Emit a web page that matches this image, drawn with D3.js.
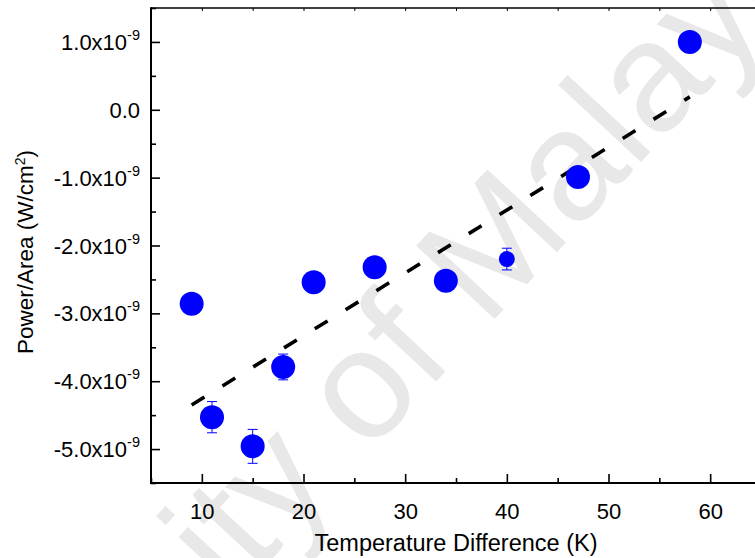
<!DOCTYPE html>
<html>
<head>
<meta charset="utf-8">
<script src="https://cdn.jsdelivr.net/npm/d3@7"></script>
<style>
  html, body { margin: 0; padding: 0; background: #fff; }
  svg { display: block; font-family: "Liberation Sans", Arial, Helvetica, sans-serif; }
</style>
</head>
<body>
<svg id="chart" width="755" height="558"></svg>
<script>
// ---- data (power in units of 1e-9 W/cm^2) ----
const tempDiff   = [9, 11, 15, 18, 21, 27, 34, 40, 47, 58];
const powerArea  = [-2.86, -4.53, -4.96, -3.79, -2.54, -2.32, -2.52, -2.20, -0.99, 1.00];
const powerErr   = [0, 0.23, 0.25, 0.19, 0, 0, 0, 0.16, 0, 0];
const fitX       = [9, 58];
const fitY       = [-4.35, 0.19];
const xTicks     = [10, 20, 30, 40, 50, 60];
const xMinorTicks= [5, 15, 25, 35, 45, 55, 65];
const yTicks     = [-5, -4, -3, -2, -1, 0, 1];
const yTickMant  = ["-5.0", "-4.0", "-3.0", "-2.0", "-1.0", "0.0", "1.0"];
const yTickExp   = ["-9", "-9", "-9", "-9", "-9", "", "-9"];
const yMinorTicks= [-5.5, -4.5, -3.5, -2.5, -1.5, -0.5, 0.5, 1.5];
const xTitle     = "Temperature Difference (K)";
const watermark  = "University of Malaya";

const svg = d3.select("#chart");
const L = 151, T = 8, R = 761, B = 483;
const x = d3.scaleLinear().domain([5, 65]).range([L, R]);
const y = d3.scaleLinear().domain([-5.5, 1.5]).range([B, T]);

// watermark
svg.append("text")
  .attr("transform", "translate(350,474) rotate(-47)")
  .attr("text-anchor", "middle")
  .attr("font-size", 156)
  .attr("fill", "#e8e8e8")
  .text(watermark);

const g = svg.append("g");
g.append("line").attr("x1", L).attr("x2", 755).attr("y1", T).attr("y2", T)
  .attr("stroke", "#000").attr("stroke-width", 1.6);

// axes with inward ticks
const xAxis = d3.axisBottom(x).tickValues(xTicks).tickSize(-9).tickPadding(20).tickFormat(d3.format("d"));
const xg = g.append("g").attr("transform", `translate(0,${B})`).call(xAxis);
xg.select(".domain").remove();
xg.selectAll("line").attr("stroke-width", 1.6);
xg.selectAll("text").attr("font-size", 22).attr("fill", "#000")
  .attr("font-family", "Liberation Sans, Arial, sans-serif");
const xm = d3.axisBottom(x).tickValues(xMinorTicks).tickSize(-5).tickFormat("");
const xmg = g.append("g").attr("transform", `translate(0,${B})`).call(xm);
xmg.select(".domain").remove();
xmg.selectAll("line").attr("stroke-width", 1.6);
const xt = d3.axisTop(x).tickValues(xTicks.concat(xMinorTicks)).tickSize(-3).tickFormat("");
const xtg = g.append("g").attr("transform", `translate(0,${T})`).call(xt);
xtg.select(".domain").remove();
xtg.selectAll("line").attr("stroke-width", 1);

const yAxis = d3.axisLeft(y).tickValues(yTicks).tickSize(-9).tickFormat("");
const yg = g.append("g").attr("transform", `translate(${L},0)`).call(yAxis);
yg.select(".domain").remove();
yg.selectAll("line").attr("stroke-width", 1.6);
const ym = d3.axisLeft(y).tickValues(yMinorTicks).tickSize(-5).tickFormat("");
const ymg = g.append("g").attr("transform", `translate(${L},0)`).call(ym);
ymg.select(".domain").remove();
ymg.selectAll("line").attr("stroke-width", 1.6);

// y tick labels with superscript exponent
yTicks.forEach((v, i) => {
  const t = g.append("text")
    .attr("x", 140).attr("y", y(v) + 8)
    .attr("text-anchor", "end").attr("font-size", 22).attr("fill", "#000");
  t.append("tspan").text(yTickMant[i] + (yTickExp[i] ? "x10" : ""));
  if (yTickExp[i]) {
    t.append("tspan").attr("dy", -10).attr("font-size", 14.5).text(yTickExp[i]);
  }
});

// axis lines
g.append("line").attr("x1", L).attr("x2", L).attr("y1", T - 0.8).attr("y2", B + 1)
  .attr("stroke", "#000").attr("stroke-width", 2);
g.append("line").attr("x1", L - 1).attr("x2", 755).attr("y1", B).attr("y2", B)
  .attr("stroke", "#000").attr("stroke-width", 2);

// axis titles
svg.append("text").attr("x", 456).attr("y", 551)
  .attr("text-anchor", "middle").attr("font-size", 23.5).attr("fill", "#000")
  .text(xTitle);
const yt = svg.append("text")
  .attr("transform", "translate(33,252) rotate(-90)")
  .attr("text-anchor", "middle").attr("font-size", 22.5).attr("fill", "#000");
yt.append("tspan").text("Power/Area (W/cm");
yt.append("tspan").attr("dy", -8).attr("font-size", 14).text("2");
yt.append("tspan").attr("dy", 8).text(")");

// fit line
const fitData = fitX.map((v, i) => [v, fitY[i]]);
svg.append("path")
  .datum(fitData)
  .attr("d", d3.line().x(d => x(d[0])).y(d => y(d[1])))
  .attr("fill", "none").attr("stroke", "#000").attr("stroke-width", 3.6)
  .attr("stroke-dasharray", "15,21.2");

// error bars + points
const pts = tempDiff.map((v, i) => ({ x: v, y: powerArea[i], e: powerErr[i] }));
const eb = svg.append("g").attr("stroke", "#0000ff").attr("stroke-width", 1);
pts.filter(d => d.e > 0).forEach(d => {
  eb.append("line").attr("x1", x(d.x)).attr("x2", x(d.x))
    .attr("y1", y(d.y + d.e)).attr("y2", y(d.y - d.e));
  eb.append("line").attr("x1", x(d.x) - 5).attr("x2", x(d.x) + 5)
    .attr("y1", y(d.y + d.e)).attr("y2", y(d.y + d.e));
  eb.append("line").attr("x1", x(d.x) - 5).attr("x2", x(d.x) + 5)
    .attr("y1", y(d.y - d.e)).attr("y2", y(d.y - d.e));
});
svg.append("g").selectAll("circle").data(pts).join("circle")
  .attr("cx", d => x(d.x)).attr("cy", d => y(d.y))
  .attr("r", d => d.x === 40 ? 8 : 12)
  .attr("fill", "#0000ff");
</script>
</body>
</html>
